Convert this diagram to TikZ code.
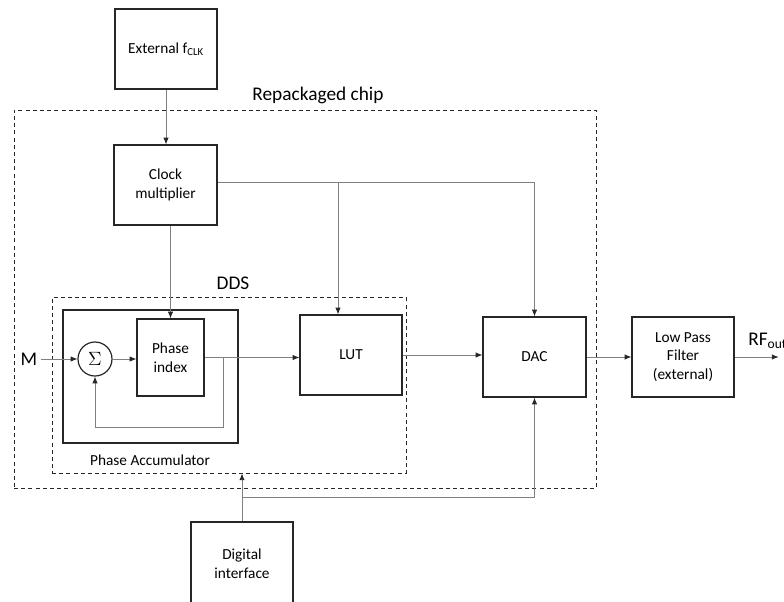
\documentclass[tikz,border=0pt]{standalone}
\usepackage{fontspec}
\setmainfont{Carlito}
\usetikzlibrary{arrows.meta}
\usetikzlibrary{calc}
\usetikzlibrary{positioning}
\tikzset{
    block/.style={
        draw=black!85,
        line width=0.9pt,
        inner sep=0,
        align=center,
        font=\fontsize{11.5}{14}\selectfont,
    },
    chip border/.style={
        draw=black!85,
        line width=0.7pt,
        dash pattern=on 3pt off 2.4pt,
        inner sep=0,
    },
    link/.style={
        draw=black!50,
        line width=0.6pt,
    },
    link arrow/.style={
        link,
        -{Latex[length=5pt,width=4pt,color=black!85]},
    },
    big label/.style={
        font=\fontsize{14.5}{17}\selectfont,
        inner sep=0,
    },
    small label/.style={
        font=\fontsize{11.5}{13}\selectfont,
        inner sep=0,
    },
}

\begin{document}
\begin{tikzpicture}[x=0.75pt, y=-0.75pt]
    \useasboundingbox (0,0) rectangle (784,601);

    % containers
    \node[chip border, minimum width=436.5pt, minimum height=283.5pt] (chip) at (305,299) {};
    \node[big label] (chiplabel) at (318,95) {Repackaged chip};
    \node[chip border, minimum width=265.5pt, minimum height=132pt] (dds) at (229,385) {};
    \node[big label] (ddslabel) at (233,283) {DDS};
    \node[block, minimum width=131.25pt, minimum height=99.75pt] (acc) at (150.5,376.5) {};
    \node[small label] (acclabel) at (150,460) {Phase Accumulator};

    % blocks
    \node[block, minimum width=76.5pt, minimum height=60pt] (ext) at (166,49) {External f\textsubscript{CLK}};
    \node[block, minimum width=77.25pt, minimum height=60pt] (clk) at (165.5,185) {Clock\\multiplier};
    \node[block, circle, minimum size=25.5pt, font=\fontsize{15}{15}\selectfont] (sum) at (95,359) {$\Sigma$};
    \node[block, minimum width=50.25pt, minimum height=57.75pt] (idx) at (170.5,357.5) {Phase\\index};
    \node[block, minimum width=76.5pt, minimum height=60pt] (lut) at (351,355) {LUT};
    \node[block, minimum width=77.25pt, minimum height=60pt] (dac) at (534.5,357) {DAC};
    \node[block, minimum width=76.5pt, minimum height=60pt] (lpf) at (683,357) {Low Pass\\Filter\\(external)};
    \node[block, minimum width=76.5pt, minimum height=63pt] (dig) at (242,564) {Digital\\interface};
    \node[big label] (m) at (29,359) {M};
    \node[big label, anchor=west] (rf) at (748,341) {RF\textsubscript{out}};

    % clock
    \draw[link arrow] (ext.south) -- (ext.south |- clk.north);
    \coordinate (clkout) at ($(clk.east)+(0,-3)$);
    \coordinate (lutin) at ($(lut.north)+(-13,0)$);
    \draw[link arrow] (clkout) -| (dac.north);
    \draw[link arrow] (clkout -| lutin) -- (lutin);
    \draw[link arrow] (idx.north |- clk.south) -- (idx.north);

    % signal path
    \draw[link arrow] ($(m.east)+(3,0)$) -- (sum.west);
    \draw[link arrow] (sum.east) -- (sum.east -| idx.west);
    \draw[link arrow] (idx.east) -- (idx.east -| lut.west);
    \coordinate (fb) at ($(idx.east)+(19,0)$);
    \draw[link arrow] (fb) |- ($(sum.south)+(0,51)$) -- (sum.south);
    \draw[link arrow] (lut.east) -- (lut.east -| dac.west);
    \draw[link arrow] (dac.east) -- (dac.east -| lpf.west);
    \draw[link arrow] (lpf.east) -- ++(44,0);

    % digital interface
    \draw[link arrow] (dig.north) -- (dig.north |- dds.south);
    \coordinate (digbus) at ($(dig.north)+(0,-24)$);
    \draw[link arrow] (digbus) -| (dac.south);

\end{tikzpicture}
\end{document}
